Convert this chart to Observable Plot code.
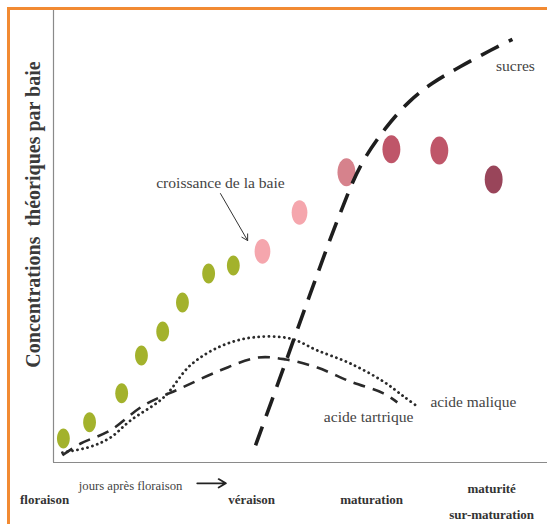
<!DOCTYPE html>
<html>
<head>
<meta charset="utf-8">
<script src="https://cdn.jsdelivr.net/npm/d3@7"></script>
<script src="https://cdn.jsdelivr.net/npm/@observablehq/plot@0.6"></script>
<style>
  html, body { margin: 0; padding: 0; background: #fff; }
  #wrap { position: relative; width: 547px; height: 524px; overflow: hidden; }
  #frame { position: absolute; left: 7px; top: 7px; width: 700px; height: 700px;
           border-top: 3px solid #f28a32; border-left: 3px solid #f28a32; box-sizing: border-box; }
  #chart { position: absolute; left: 0; top: 0; }
</style>
</head>
<body>
<div id="wrap"><div id="frame"></div><div id="chart"></div></div>
<script>
// ---- data (x: relative time 0–100, y: relative concentration 0–100) ----
const berryX = [2.0, 7.3, 13.8, 17.8, 22.1, 26.1, 31.4, 36.4, 42.3, 49.8, 59.3, 68.4, 78.1, 89.1];
const berryY = [5.3, 8.9, 15.3, 23.7, 29.0, 35.4, 41.8, 43.6, 46.7, 55.3, 64.2, 69.3, 69.0, 62.6];
const berryStage = ["vert","vert","vert","vert","vert","vert","vert","vert",
                    "rose","rose","rouge clair","rouge","rouge","rouge foncé"];
const stageNames = ["vert", "rose", "rouge clair", "rouge", "rouge foncé"];

const sucresX = [40.9, 46.6, 52.0, 57.7, 62.2, 67.2, 72.1, 76.7, 82.4, 88.5, 92.9];
const sucresY = [3.8, 21.0, 37.4, 54.2, 65.7, 73.9, 79.9, 83.9, 87.6, 91.2, 93.6];

const maliqueX = [1.8, 7.5, 11.5, 15.6, 22.3, 27.7, 33.8, 40.5, 48.0, 53.4, 60.1, 66.8, 70.9, 73.9];
const maliqueY = [2.2, 3.5, 5.5, 9.3, 14.4, 21.5, 25.7, 27.7, 27.4, 24.8, 21.9, 17.9, 14.6, 12.2];

const tartriqueX = [1.8, 5.5, 11.5, 18.2, 25.7, 33.8, 41.3, 47.0, 53.4, 60.1, 66.8, 69.6];
const tartriqueY = [1.6, 4.2, 7.1, 12.6, 16.4, 20.4, 23.2, 22.8, 21.0, 17.9, 15.3, 13.3];

const stageLabels = ["floraison", "véraison", "maturation", "maturité\nsur-maturation"];
const stageX = [-1.8, 40.1, 64.4, 88.7];

const yLabel = "Concentrations  théoriques par baie";

// annotations (text, x, y in data units)
const curveLabels = [
  {text: "sucres", x: 93.5, y: 87.8},
  {text: "croissance de la baie", x: 33.8, y: 61.9},
  {text: "acide tartrique", x: 63.8, y: 10.0}
];
const maliqueLabel = [{text: "acide malique", x: 76.3, y: 13.3}];
const growthArrow = [{x1: 33.8, y1: 59.5, x2: 39.3, y2: 49.1}];
const timeLabel = [{text: "jours après floraison", x: 15.6, y: -5.1}];
const timeArrow = [{x1: 29.1, y1: -4.6, x2: 34.9, y2: -4.6}];

// ---- tables ----
const berries = berryX.map((x, i) => ({x, y: berryY[i], stage: berryStage[i]}));
const sucres = sucresX.map((x, i) => ({x, y: sucresY[i]}));
const malique = maliqueX.map((x, i) => ({x, y: maliqueY[i]}));
const tartrique = tartriqueX.map((x, i) => ({x, y: tartriqueY[i]}));
const stages = stageLabels.map((label, i) => ({label, x: stageX[i]}));

// ellipse symbol (berries are drawn as upright ovals)
const ellipse = {
  draw(ctx, size) {
    const ry = Math.sqrt(size / Math.PI), rx = ry * 0.64, k = 0.5523;
    ctx.moveTo(rx, 0);
    ctx.bezierCurveTo(rx, ry * k, rx * k, ry, 0, ry);
    ctx.bezierCurveTo(-rx * k, ry, -rx, ry * k, -rx, 0);
    ctx.bezierCurveTo(-rx, -ry * k, -rx * k, -ry, 0, -ry);
    ctx.bezierCurveTo(rx * k, -ry, rx, -ry * k, rx, 0);
    ctx.closePath();
  }
};

const serif = "Liberation Serif";

const chart = Plot.plot({
  width: 547,
  height: 524,
  marginLeft: 53,
  marginRight: 0,
  marginTop: 10,
  marginBottom: 62,
  style: {background: "transparent", fontFamily: serif},
  x: {domain: [0, 100], axis: null},
  y: {domain: [0, 100], axis: null},
  color: {domain: stageNames, range: ["#a3b22c", "#f5a6ad", "#d6828c", "#bf5669", "#99455a"]},
  marks: [
    Plot.ruleX([0], {stroke: "#8a8a8a", strokeWidth: 1.2}),
    Plot.ruleY([0], {stroke: "#8a8a8a", strokeWidth: 1.2}),
    Plot.dot(berries, {filter: d => d.stage === "vert", x: "x", y: "y", fill: "stage", r: 10, symbol: ellipse}),
    Plot.dot(berries, {filter: d => d.stage === "rose", x: "x", y: "y", fill: "stage", r: 12.3, symbol: ellipse}),
    Plot.dot(berries, {filter: d => d.stage !== "vert" && d.stage !== "rose", x: "x", y: "y", fill: "stage", r: 14, symbol: ellipse}),
    Plot.line(malique, {x: "x", y: "y", curve: "catmull-rom", stroke: "#2a2a2a", strokeWidth: 2.8,
      strokeDasharray: "0.1 5", strokeLinecap: "round"}),
    Plot.line(tartrique, {x: "x", y: "y", curve: "catmull-rom", stroke: "#2a2a2a", strokeWidth: 2.6,
      strokeDasharray: "12 8", strokeLinecap: "butt"}),
    Plot.line(sucres, {x: "x", y: "y", curve: "catmull-rom", stroke: "#1e1e1e", strokeWidth: 3.6,
      strokeDasharray: "20 11", strokeLinecap: "butt"}),
    Plot.text(curveLabels, {x: "x", y: "y", text: "text", fontSize: 15.6, fontFamily: serif, fill: "#444"}),
    Plot.text(maliqueLabel, {x: "x", y: "y", text: "text", fontSize: 15.4, fontFamily: serif, fill: "#444", textAnchor: "start"}),
    Plot.arrow(growthArrow, {x1: "x1", y1: "y1", x2: "x2", y2: "y2", stroke: "#333", strokeWidth: 1, headLength: 10}),
    Plot.text(timeLabel, {x: "x", y: "y", text: "text", fontSize: 12.7, fontFamily: serif, fill: "#444"}),
    Plot.arrow(timeArrow, {x1: "x1", y1: "y1", x2: "x2", y2: "y2", stroke: "#222", strokeWidth: 1.8, headLength: 7}),
    Plot.text(stages, {filter: d => !d.label.includes("\n"), x: "x", text: "label", frameAnchor: "bottom",
      lineAnchor: "middle", dy: 37, fontSize: 13, fontWeight: "bold", fontFamily: serif, fill: "#333"}),
    Plot.text(stages, {filter: d => d.label.includes("\n"), x: "x", text: "label", frameAnchor: "bottom",
      lineAnchor: "middle", dy: 35.5, lineHeight: 2, fontSize: 13, fontWeight: "bold", fontFamily: serif, fill: "#333"}),
    Plot.text([yLabel], {text: d => d, frameAnchor: "left", textAnchor: "middle", lineAnchor: "middle",
      rotate: -90, dx: -20, dy: -22, fontSize: 20, fontWeight: "bold", fontFamily: serif, fill: "#3a3a3a"})
  ]
});
document.getElementById("chart").appendChild(chart);
</script>
</body>
</html>
